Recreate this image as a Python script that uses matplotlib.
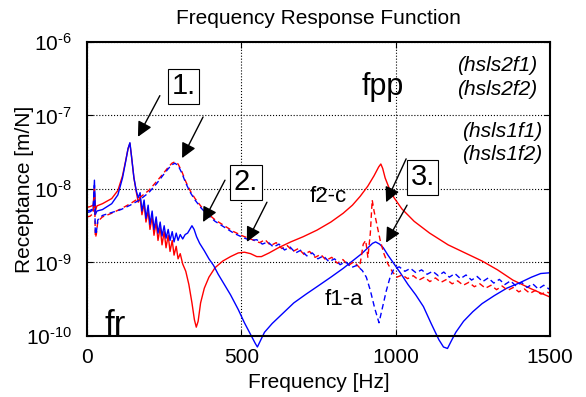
import matplotlib.pyplot as plt
from matplotlib.ticker import FixedLocator, FuncFormatter
import numpy as np

# frequency [Hz] and log10(receptance [m/N])
rs_f = [0, 10, 20, 24, 27, 32, 50, 80, 100, 115, 125, 133, 139, 144, 152, 160, 166,
        172, 178, 185, 191, 198, 204, 211, 217, 224, 230, 237, 243, 250, 256, 263, 269,
        276, 282, 289, 295, 302, 310, 320, 330, 340, 348, 354, 360, 368, 380, 395, 415,
        440, 465, 490, 510, 530, 550, 565, 590, 620, 660, 700, 745, 790, 830, 860, 885,
        910, 930, 945, 952, 958, 966, 980, 995, 1020, 1060, 1110, 1170, 1230, 1280, 1330,
        1380, 1440, 1500]
rs_y = [-8.25, -8.24, -8.22, -8.05, -8.3, -8.23, -8.2, -8.13, -8.02, -7.82, -7.62, -7.45,
        -7.38, -7.55, -7.85, -8.05, -8.18,
        -8.12, -8.35, -8.2, -8.45, -8.3, -8.55, -8.38, -8.63, -8.45, -8.7, -8.52, -8.76,
        -8.58, -8.8, -8.63, -8.85, -8.7, -8.9, -8.78, -8.95, -8.88, -9.02, -9.12, -9.3,
        -9.55, -9.78, -9.88, -9.8, -9.55, -9.35, -9.2, -9.07, -8.98, -8.92, -8.87, -8.86,
        -8.88, -8.92, -8.92, -8.87, -8.8, -8.72, -8.65, -8.56, -8.45, -8.33, -8.22, -8.1,
        -7.96, -7.82, -7.7, -7.66, -7.72, -7.85, -8.0, -8.12, -8.27, -8.44, -8.6, -8.76,
        -8.88, -8.98, -9.1, -9.24, -9.36, -9.47]

bs_f = [0, 10, 20, 24, 27, 32, 50, 80, 100, 115, 125, 133, 139, 144, 152, 160, 166,
        172, 178, 185, 191, 198, 204, 211, 217, 224, 230, 237, 243, 250, 256, 263, 269,
        276, 282, 289, 295, 302, 310, 318, 326, 333, 340, 347, 355, 365, 380, 395, 410,
        425, 445, 465, 490, 510, 530, 545, 552, 560, 575, 600, 635, 670, 710, 745, 790,
        830, 860, 890, 910, 925, 935, 948, 960, 975, 995, 1015, 1040, 1065, 1090, 1115,
        1140, 1155, 1168, 1180, 1195, 1220, 1250, 1280, 1320, 1360, 1400, 1440, 1470, 1500]
bs_y = [-8.32, -8.31, -8.28, -7.88, -8.35, -8.3, -8.28, -8.2, -8.08, -7.85, -7.63, -7.45,
        -7.37, -7.55, -7.85, -8.03, -8.12,
        -8.05, -8.3, -8.15, -8.4, -8.22, -8.48, -8.3, -8.55, -8.38, -8.6, -8.45, -8.64,
        -8.5, -8.67, -8.55, -8.7, -8.58, -8.72, -8.6, -8.7, -8.62, -8.68, -8.62, -8.6,
        -8.55, -8.5, -8.55, -8.65, -8.74, -8.84, -8.95, -9.04, -9.16, -9.3, -9.44, -9.64,
        -9.82, -9.98, -10.1, -10.15, -10.08, -9.95, -9.83, -9.69, -9.55, -9.43, -9.33,
        -9.2, -9.08, -8.98, -8.88, -8.8, -8.74, -8.72, -8.75, -8.8, -8.9, -9.02, -9.14,
        -9.3, -9.44, -9.6, -9.83, -10.05, -10.15, -10.17, -10.07, -9.95, -9.8, -9.67,
        -9.56, -9.45, -9.35, -9.28, -9.2, -9.15, -9.14]

bd_f = [0, 10, 20, 24, 27, 30, 35, 50, 80, 110, 140, 170, 200, 225, 245, 262, 275, 285,
        295, 307, 320, 335, 350, 370, 390, 415, 445, 475, 505, 530,
        550, 568, 586, 604, 622, 640, 658, 676, 694, 712, 730, 748, 766, 784, 802, 820,
        838, 856, 874, 892, 905, 918, 932, 946, 958, 970, 982, 995, 1012,
        1030, 1048, 1066, 1084, 1102, 1120, 1138, 1156, 1174, 1192, 1210, 1228, 1246,
        1264, 1282, 1300, 1318, 1336, 1354, 1372, 1390, 1408, 1426, 1444, 1462, 1480, 1500]
bd_y = [-8.3, -8.29, -8.27, -7.95, -8.62, -8.6, -8.42, -8.36, -8.32, -8.28, -8.22, -8.15,
        -8.05, -7.93, -7.82, -7.73, -7.67, -7.65, -7.68, -7.78, -7.92, -8.05, -8.15,
        -8.26, -8.35, -8.44, -8.52, -8.6, -8.66, -8.7,
        -8.69, -8.75, -8.72, -8.79, -8.75, -8.83, -8.79, -8.87, -8.83, -8.91, -8.87, -8.95,
        -8.91, -8.99, -8.95, -9.03, -8.99, -9.07, -9.04, -9.11, -9.2, -9.38, -9.62, -9.82,
        -9.6, -9.38, -9.2, -9.08, -9.06,
        -9.12, -9.08, -9.14, -9.1, -9.16, -9.12, -9.18, -9.13, -9.2, -9.15, -9.22, -9.17,
        -9.24, -9.19, -9.26, -9.21, -9.28, -9.23, -9.3, -9.25, -9.32, -9.27, -9.34, -9.29,
        -9.36, -9.31, -9.37]

rd_f = [0, 10, 20, 24, 27, 30, 35, 50, 80, 110, 140, 170, 200, 225, 245, 262, 275, 285,
        295, 307, 320, 335, 350, 370, 390, 415, 445, 475, 505, 530,
        559, 577, 595, 613, 631, 649, 667, 685, 703, 721, 739, 757, 775, 793, 811, 829,
        847, 865, 883, 895, 903, 910, 918, 924, 930, 940, 950, 962, 975, 990, 1004,
        1021, 1039, 1057, 1075, 1093, 1111, 1129, 1147, 1165, 1183, 1201, 1219, 1237,
        1255, 1273, 1291, 1309, 1327, 1345, 1363, 1381, 1399, 1417, 1435, 1453, 1471,
        1490, 1500]
rd_y = [-8.38, -8.37, -8.33, -8.0, -8.66, -8.62, -8.44, -8.38, -8.33, -8.27, -8.2, -8.12,
        -8.02, -7.9, -7.8, -7.71, -7.65, -7.63, -7.66, -7.76, -7.9, -8.03, -8.13, -8.24,
        -8.33, -8.42, -8.5, -8.58, -8.64, -8.68,
        -8.73, -8.69, -8.77, -8.73, -8.81, -8.77, -8.85, -8.81, -8.89, -8.85, -8.93, -8.89,
        -8.97, -8.93, -9.01, -8.96, -9.04, -8.99, -9.07, -8.75, -8.7, -8.93, -8.6, -8.15,
        -8.3, -8.5, -8.7, -8.88, -9.02, -9.13, -9.2,
        -9.17, -9.22, -9.18, -9.24, -9.2, -9.26, -9.21, -9.27, -9.23, -9.29, -9.25, -9.31,
        -9.27, -9.33, -9.29, -9.35, -9.31, -9.37, -9.32, -9.38, -9.34, -9.4, -9.36, -9.42,
        -9.38, -9.43, -9.4, -9.42]

series_labels = ['(hsls2f1)', '(hsls2f2)', '(hsls1f1)', '(hsls1f2)']
tick_labels_x = ['0', '500', '1000', '1500']

plt.rcParams['font.family'] = ['Liberation Sans', 'DejaVu Sans']
plt.rcParams['mathtext.fontset'] = 'custom'
plt.rcParams['mathtext.rm'] = 'Liberation Sans'
plt.rcParams['mathtext.it'] = 'Liberation Sans:italic'


def decade_label(v, pos):
    e = int(round(np.log10(v)))
    return r'$\mathregular{10^{\text{-}%d}}$' % (-e)


def box_with_arrows(ax, label, pos, arrows):
    ax.text(pos[0], 10 ** pos[1], label, fontsize=21, ha='center', va='center',
            bbox=dict(boxstyle='square,pad=0.12', fc='white', ec='k', lw=0.8))
    for tail, tip in arrows:
        ax.annotate('', xy=(tip[0], 10 ** tip[1]), xytext=(tail[0], 10 ** tail[1]),
                    arrowprops=dict(arrowstyle='-|>,head_length=0.6,head_width=0.3',
                                    color='k', lw=1.0, mutation_scale=15,
                                    shrinkA=0, shrinkB=0))


def plot_frf():
    fig = plt.figure(figsize=(5.86, 3.97), dpi=100)
    ax = fig.add_axes([0.1485, 0.1537, 0.790, 0.7405])

    ax.plot(rs_f, np.power(10.0, rs_y), 'r-', lw=1.0, clip_on=False)
    ax.plot(bs_f, np.power(10.0, bs_y), 'b-', lw=1.0, clip_on=False)
    ax.plot(rd_f, np.power(10.0, rd_y), 'r--', lw=1.0, dashes=(4, 2.5), clip_on=False)
    ax.plot(bd_f, np.power(10.0, bd_y), 'b--', lw=1.0, dashes=(4, 2.5), clip_on=False)

    ax.set_yscale('log')
    ax.set_xlim(0, 1500)
    ax.set_ylim(1e-10, 1e-6)
    ax.set_xticks([0, 500, 1000, 1500])
    ax.set_xticklabels(tick_labels_x)
    ax.yaxis.set_major_locator(FixedLocator([1e-10, 1e-9, 1e-8, 1e-7, 1e-6]))
    ax.yaxis.set_major_formatter(FuncFormatter(decade_label))
    ax.minorticks_off()
    ax.tick_params(direction='in', length=4, top=True, right=True, labelsize=15, pad=9)
    ax.tick_params(axis='y', pad=11)
    ax.grid(True, which='major', linestyle=':', color='k', linewidth=0.8)
    for s in ax.spines.values():
        s.set_linewidth(1.5)

    ax.set_title('Frequency Response Function', fontsize=15, pad=13)
    ax.set_xlabel('Frequency [Hz]', fontsize=15, labelpad=4)
    ax.set_ylabel('Receptance [m/N]', fontsize=15)
    ax.yaxis.set_label_coords(-0.115, 0.5)

    box_with_arrows(ax, '1.', (314, -6.6), [((236, -6.73), (165, -7.29)),
                                            ((376, -7.02), (308, -7.58))])
    box_with_arrows(ax, '2.', (515, -7.905), [((447, -7.88), (376, -8.45)),
                                              ((583, -8.18), (518, -8.72))])
    box_with_arrows(ax, '3.', (1088, -7.84), [((1034, -7.59), (969, -8.18)),
                                              ((1037, -8.22), (969, -8.73))])

    ax.text(891, 10 ** -6.72, 'fpp', fontsize=22, ha='left', va='baseline')
    ax.text(58, 10 ** -9.98, 'fr', fontsize=25, ha='left', va='baseline')
    ax.text(722, 10 ** -8.18, 'f2-c', fontsize=16, ha='left', va='baseline')
    ax.text(770, 10 ** -9.58, 'f1-a', fontsize=16, ha='left', va='baseline')

    label_x = [1458, 1458, 1474, 1474]
    label_y = [-6.39, -6.72, -7.29, -7.61]
    for lab, lx, ly in zip(series_labels, label_x, label_y):
        ax.text(lx, 10 ** ly, lab, fontsize=15, style='italic', ha='right', va='baseline')

    fig.savefig('out.png', dpi=100)


if __name__ == "__main__":
    plot_frf()
